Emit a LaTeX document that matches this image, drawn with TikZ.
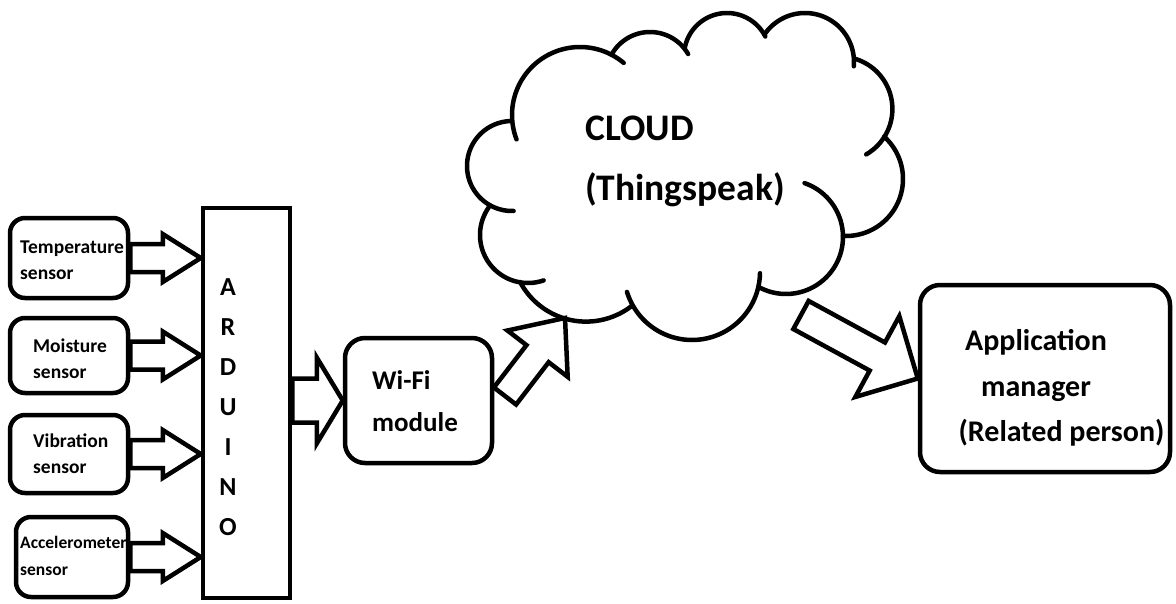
\documentclass[tikz,border=0pt]{standalone}
\usepackage{fontspec}
\setmainfont{Carlito}
\usetikzlibrary{calc}
\tikzset{
  ln/.style={line width=4.5pt},
  sensorbox/.style={ln, draw, rounded corners=15pt, minimum width=118pt, inner sep=0pt},
  sensortext/.style={align=left, inner sep=0pt, font=\bfseries\fontsize{19.5}{26}\selectfont, anchor=west},
  roundbox/.style={ln, draw, rounded corners=20pt, inner sep=0pt},
  blockarr/.style={ln, draw, line join=miter},
  cloudline/.style={ln, line cap=round},
}
\newcommand\blockarrow[5]{%
  \coordinate (ba-s) at #1; \coordinate (ba-e) at #2;
  \coordinate (ba-p) at ($(ba-e)!#5!(ba-s)$);
  \draw[blockarr] ($(ba-s)!#3!90:(ba-e)$) -- ($(ba-p)!#3!90:(ba-e)$) -- ($(ba-p)!#4!90:(ba-e)$) -- (ba-e) -- ($(ba-p)!#4!-90:(ba-e)$) -- ($(ba-p)!#3!-90:(ba-e)$) -- ($(ba-s)!#3!-90:(ba-e)$) -- cycle;}
\newcommand\puff[5]{\draw[cloudline] plot[domain=#4:#5, samples=50, smooth] ({#1+#3*cos(\x)},{#2+#3*sin(\x)});}
\begin{document}
\begin{tikzpicture}[x=1pt,y=-1pt]
\useasboundingbox (0,0) rectangle (1176,603);
% sensors
\node[sensorbox, minimum height=80pt] (temp) at (69,258) {};
\node[sensortext] (tempt) at (20,260) {Temperature\\sensor};
\node[sensorbox, minimum height=75pt] (moist) at (69,355.5) {};
\node[sensortext] (moistt) at (33,359) {Moisture\\sensor};
\node[sensorbox, minimum height=78pt] (vib) at (69,454) {};
\node[sensortext] (vibt) at (33,454) {Vibration\\sensor};
\node[sensorbox, minimum height=80pt, minimum width=112pt] (acc) at (72,557) {};
\node[sensortext, font=\bfseries\fontsize{17.5}{27}\selectfont] (acct) at (20,556) {Accelerometer\\sensor};
% arduino
\node[ln, draw, minimum width=87pt, minimum height=390pt, inner sep=0pt] (ard) at (246.5,403) {};
\node[font=\bfseries\fontsize{26}{40}\selectfont, align=center, inner sep=0pt] (ardt) at (228,407) {A\\R\\D\\U\\I\\N\\O};
% wifi
\node[roundbox, minimum width=147pt, minimum height=125pt] (wifi) at (418.5,400.5) {};
\node[align=left, anchor=west, font=\bfseries\fontsize{27}{42}\selectfont, inner sep=0pt] (wifit) at (372,401) {Wi-Fi\\module};
% cloud
\puff{580}{115}{68}{159}{310}
\puff{650}{76}{44}{209}{330}
\puff{727}{56}{43}{190}{333}
\puff{805}{62}{49}{214}{365}
\puff{840}{109}{52.4}{286}{420}
\puff{846}{179}{57}{312}{453}
\puff{786}{237}{57}{289}{479}
\puff{692}{272}{68}{1}{163}
\puff{586}{247}{74.6}{52}{152}
\puff{528}{235}{48}{71}{215}
\puff{512}{166}{45}{88}{270}
\node[align=left, anchor=west, font=\bfseries\fontsize{37.5}{60}\selectfont, inner sep=0pt] (cloudt) at (585,161) {CLOUD\\(Thingspeak)};
% application
\node[roundbox, minimum width=250pt, minimum height=187pt] (app) at (1045,378.5) {};
\node[align=center, font=\bfseries\fontsize{30}{45.5}\selectfont, inner sep=0pt] (appt) at (1036,388) {Application\\manager\\\hspace*{51pt}(Related person)};
% arrows
\blockarrow{(temp.east)}{(ard.west |- temp.east)}{14pt}{24pt}{38pt}
\blockarrow{(moist.east)}{(ard.west |- moist.east)}{14pt}{24pt}{38pt}
\blockarrow{(vib.east)}{(ard.west |- vib.east)}{14pt}{24pt}{38pt}
\blockarrow{(acc.east)}{(ard.west |- acc.east)}{14pt}{24pt}{38pt}
\blockarrow{(ard.east |- wifi.west)}{(wifi.west)}{22pt}{43pt}{26pt}
\coordinate (wfout) at (505,396);
\coordinate (cloudin) at (565,318);
\blockarrow{(wfout)}{(cloudin)}{14pt}{38pt}{45pt}
\coordinate (cloudout) at (801,315);
\blockarrow{(cloudout)}{(app.west)}{16pt}{46pt}{46pt}
\end{tikzpicture}
\end{document}
